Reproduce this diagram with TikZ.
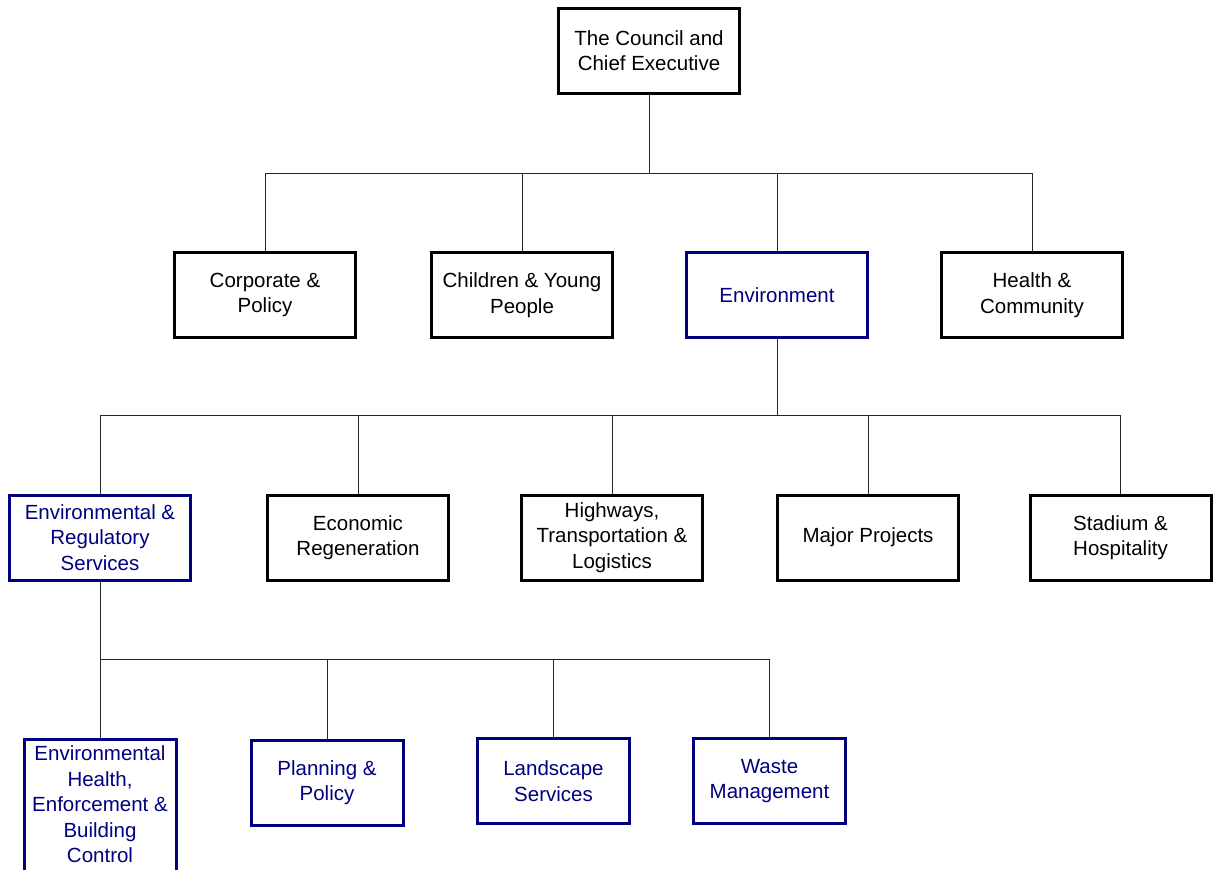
\documentclass[tikz,border=0pt]{standalone}
\usepackage{fontspec}
\setmainfont{Liberation Sans}
\definecolor{navy}{RGB}{0,0,128}
\begin{document}
\begin{tikzpicture}[x=1pt, y=-1pt,
    unit/.style={draw=black, line width=3pt, fill=white, align=center, inner sep=0pt,
      minimum width=181pt, minimum height=85pt, font=\fontsize{20.5}{25.5}\selectfont},
    envunit/.style={unit, draw=navy, text=navy},
    service/.style={envunit, minimum width=152pt},
    servicetext/.style={align=center, text=navy, font=\fontsize{20.5}{25.5}\selectfont},
    link/.style={line width=1pt, draw=black!85}]
    \useasboundingbox (0,0) rectangle (1213,870);

    % Buses of the tree
    \coordinate (bus1) at (649,173);
    \coordinate (bus2) at (777,415);
    \coordinate (bus3) at (100,659);

    % Top level
    \node[unit] (council) at (649,50.5) {The Council and\\Chief Executive};

    % Directorates
    \node[unit] (corp) at (265,295) {Corporate \&\\Policy};
    \node[unit] (young) at (522,295) {Children \& Young\\People};
    \node[envunit] (env) at (777,295) {Environment};
    \node[unit] (health) at (1032,295) {Health \&\\Community};

    % Environment divisions
    \node[envunit] (ers) at (100,537.5) {Environmental \&\\Regulatory\\Services};
    \node[unit] (econ) at (358,537.5) {Economic\\Regeneration};
    \node[unit] (highways) at (612,537.5) {Highways,\\Transportation \&\\Logistics};
    \node[unit] (major) at (868,537.5) {Major Projects};
    \node[unit] (stadium) at (1120.5,537.5) {Stadium \&\\Hospitality};

    % Services
    \node[service, minimum height=150pt,
      label={[servicetext, name=ehbctext, yshift=10pt]center:Environmental\\Health,\\Enforcement \&\\Building\\Control}]
      (ehbc) at (100,814.5) {};
    \node[service] (planning) at (327,782.5) {Planning \&\\Policy};
    \node[service] (landscape) at (553.5,781) {Landscape\\Services};
    \node[service] (waste) at (769.5,781) {Waste\\Management};

    % Links
    \draw[link] (council) -- (bus1);
    \draw[link] (corp.north) |- (health.north |- bus1) -- (health.north);
    \draw[link] (young) -- (young |- bus1);
    \draw[link] (env) -- (env |- bus1);

    \draw[link] (env) -- (bus2);
    \draw[link] (ers.north) |- (stadium.north |- bus2) -- (stadium.north);
    \draw[link] (econ) -- (econ |- bus2);
    \draw[link] (highways) -- (highways |- bus2);
    \draw[link] (major) -- (major |- bus2);

    \draw[link] (ers) -- (ehbc);
    \draw[link] (bus3) -- (waste.north |- bus3) -- (waste.north);
    \draw[link] (planning) -- (planning |- bus3);
    \draw[link] (landscape) -- (landscape |- bus3);
\end{tikzpicture}
\end{document}
